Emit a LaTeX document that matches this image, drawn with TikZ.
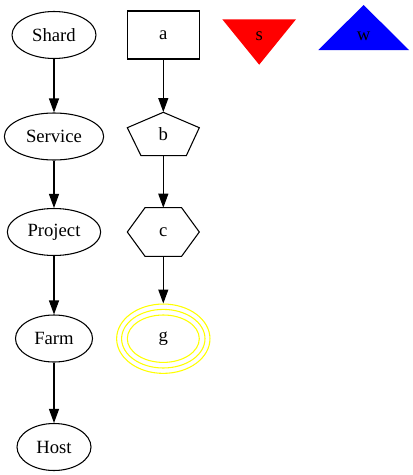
\documentclass[tikz,border=0pt]{standalone}
\usepackage{fontspec}
\setmainfont{Liberation Serif}
\usepackage{xcolor}
\definecolor{vizRed}{HTML}{FF0000}
\definecolor{vizBlue}{HTML}{0000FF}
\definecolor{vizYellow}{HTML}{FFFF00}
\usetikzlibrary{shapes.geometric, arrows.meta}

\tikzset{
  vizEllipse/.style={ellipse, draw, line width=0.8pt, inner sep=0pt, minimum height=35.25pt},
  vizBox/.style={rectangle, inner sep=0pt, minimum width=54pt, minimum height=36pt},
  vizEdge/.style={line width=0.8pt, -{Triangle[length=10.5pt, width=7.5pt]}}
}

\begin{document}
\begin{tikzpicture}[x=0.75pt, y=-0.75pt, font=\fontsize{14}{16}\selectfont]
  \useasboundingbox (0,0) rectangle (413,475);
  % left column
  \node[vizEllipse, minimum width=63pt] (Shard) at (54,35) {Shard};
  \node[vizEllipse, minimum width=74.5pt] (Service) at (54,136.5) {Service};
  \node[vizEllipse, minimum width=70pt] (Project) at (54,232) {Project};
  \node[vizEllipse, minimum width=57.75pt] (Farm) at (54,338.5) {Farm};
  \node[vizEllipse, minimum width=55.5pt] (Host) at (54,447) {Host};
  % middle column
  \node[vizBox, draw, line width=0.8pt] (a) at (163.3,35) {a};
  \node[vizBox, minimum height=32.5pt] (b) at (163.3,134) {b};
  \draw[line width=0.8pt, shift={(b.center)}] (0,-21.7) -- (36,-6.3) -- (23,21.7) -- (-22.3,21.7) -- (-36,-6.3) -- cycle;
  \node[vizBox] (c) at (163.3,232) {c};
  \draw[line width=0.8pt, shift={(c.center)}] (-36,0) -- (-18.3,-24.3) -- (18.3,-24.3) -- (36,0) -- (18.3,24.3) -- (-18.3,24.3) -- cycle;
  \node[ellipse, draw=vizYellow, line width=0.8pt, inner sep=0pt, minimum width=70pt, minimum height=52pt] (g) at (163.3,338.7) {g};
  \draw[vizYellow, line width=0.8pt] (g.center) ellipse [x radius=41.7, y radius=29.3];
  \draw[vizYellow, line width=0.8pt] (g.center) ellipse [x radius=36, y radius=23.7];
  % triangles
  \fill[vizRed] (222.3,19.3) -- (296,19.3) -- (259.2,64.7) -- cycle;
  \node (s) at (259.2,36) {s};
  \fill[vizBlue] (318.3,50) -- (409,50) -- (363.6,5) -- cycle;
  \node (w) at (363.6,36) {w};
  % edges
  \draw[vizEdge] (Shard) -- (Service);
  \draw[vizEdge] (Service) -- (Project);
  \draw[vizEdge] (Project) -- (Farm);
  \draw[vizEdge] (Farm) -- (Host);
  \draw[vizEdge] (a) -- (b);
  \draw[vizEdge] (b) -- (c);
  \draw[vizEdge] (c) -- (g);
\end{tikzpicture}
\end{document}
